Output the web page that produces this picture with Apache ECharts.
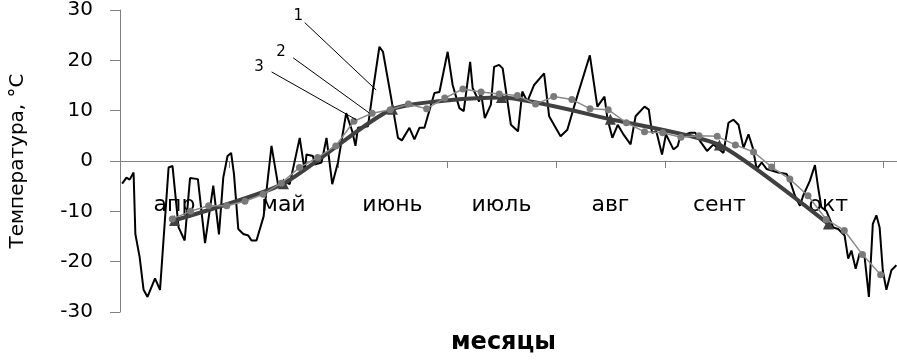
<!DOCTYPE html>
<html>
<head>
<meta charset="utf-8">
<script src="https://cdn.jsdelivr.net/npm/echarts@6/dist/echarts.min.js"></script>
<style>
  html, body { margin: 0; padding: 0; background: #fff; }
  #chart { width: 897px; height: 361px; }
</style>
</head>
<body>
<div id="chart"></div>
<script>
// month labels (x axis, one per month)
const monthLabels = ['апр', 'май', 'июнь', 'июль', 'авг', 'сент', 'окт'];

// 1 - daily temperature: day counted from 1 April, value in °C
const dailyDays = [
  0.6, 1.8, 2.7, 3.8, 4.3, 5.5, 6.6, 7.7, 9.8, 11.2, 13.6, 14.7, 16.4, 18.1, 19.6, 21.8,
  23.8, 26.1, 27.7, 28.9, 30.1, 31.1, 31.9, 33.1, 34.5, 35.9, 36.8, 38.2, 40.2, 42.4, 44.3,
  45.5, 47.5, 50.3, 51.7, 52.2, 54.0, 54.5, 56.4, 57.8, 59.4, 61.0, 63.3, 65.0, 65.9, 66.6,
  69.4, 70.8, 72.6, 73.6, 75.9, 77.8, 78.9, 81.0, 82.4, 83.8, 85.2, 88.0, 89.4, 91.7, 93.1,
  95.0, 96.2, 98.0, 98.7, 100.5, 101.0, 102.1, 103.8, 104.7, 106.1, 107.1, 109.4, 111.4,
  112.6, 114.0, 115.9, 118.7, 120.1, 123.3, 125.2, 127.5, 131.5, 133.6, 135.6, 136.4, 137.8,
  139.3, 140.8, 142.9, 144.3, 146.8, 148.0, 148.9, 150.1, 151.7, 152.8, 154.9, 156.1, 156.8,
  159.6, 161.0, 162.4, 164.3, 166.1, 168.9, 170.3, 171.7, 173.1, 174.5, 175.9, 177.1, 178.2,
  179.6, 181.0, 184.2, 186.6, 187.5, 188.9, 190.3, 191.2, 193.1, 194.5, 195.4, 196.3, 197.7,
  199.6, 201.0, 202.8, 203.8, 204.7, 205.9, 207.0, 208.4, 209.6, 210.7, 211.7, 212.6, 213.5,
  214.5, 215.9, 217.3
];
const dailyTemps = [
  -4.5, -3.3, -3.7, -2.3, -14.5, -19.1, -25.6, -27.0, -23.3, -25.6, -1.3, -1.0, -13.2, -15.8, -3.4, -3.6,
  -16.3, -4.9, -14.6, -3.3, 1.0, 1.6, -2.6, -13.5, -14.5, -14.8, -15.8, -15.8, -11.0, 3.0, -5.0,
  -4.0, -4.6, 4.6, -2.0, 1.3, 1.0, -0.7, -0.3, 4.6, -4.6, -0.3, 9.5, 5.9, 3.0, 6.6,
  6.9, 14.1, 22.7, 21.7, 12.5, 4.6, 4.1, 6.6, 4.3, 6.6, 6.6, 13.5, 13.7, 21.7, 15.1,
  10.5, 9.9, 19.7, 14.5, 11.8, 13.8, 8.5, 11.2, 18.7, 19.1, 18.4, 7.2, 5.9,
  13.8, 11.8, 15.1, 17.4, 8.9, 4.9, 6.2, 11.8, 21.0, 10.8, 12.8, 8.5, 4.6,
  7.2, 5.4, 3.3, 8.9, 10.8, 10.2, 5.6, 5.9, 1.3, 5.3, 2.3, 3.0, 4.9,
  5.6, 5.6, 3.9, 2.0, 3.3, 1.6, 7.6, 8.2, 7.2, 2.6, 5.3, 2.6, -1.6,
  -0.3, -1.6, -2.3, -2.6, -3.9, -6.9, -8.9, -6.9, -3.9, -0.8, -5.3, -9.2, -9.9,
  -13.2, -13.5, -14.8, -19.4, -17.8, -21.4, -18.4, -19.1, -27.0, -12.5, -10.8, -13.2, -21.8,
  -25.6, -21.7, -20.7
];

// 2 - five-day (pentad) means, °C
const pentadTemps = [
  -11.5, -10.0, -8.9, -8.9, -8.0, -6.6, -4.4, -1.3, 0.7, 3.0,
  7.9, 9.5, 10.2, 11.3, 10.4, 12.5, 14.3, 13.7, 13.3, 13.0,
  11.3, 12.8, 12.2, 10.4, 10.2, 7.6, 5.8, 5.6, 4.7, 5.0,
  4.9, 3.2, 1.8, -1.2, -3.6, -6.9, -11.6, -13.8, -18.6, -22.6
];
const pentadFirst = 0.48; // first pentad position, in months

// 3 - monthly means, °C
const monthlyTemps = [-11.8, -4.5, 10.3, 12.6, 8.3, 3.2, -12.5];

const DAYS_PER_MONTH = 30.5;
const font = '"DejaVu Sans", sans-serif';
const axisGray = '#808080';
// long dash = visually solid, keeps zrender from batching the axis strokes
const solidDash = [900, 1];

const chart = echarts.init(document.getElementById('chart'));

const dailyData = dailyDays.map((d, i) => [d / DAYS_PER_MONTH, dailyTemps[i]]);
const pentadData = pentadTemps.map((v, i) => [pentadFirst + i / 6, v]);
const monthlyData = monthlyTemps.map((v, i) => [i + 0.5, v]);

chart.setOption({
  animation: false,
  backgroundColor: '#fff',
  title: {
    text: 'месяцы',
    left: 451,
    top: 331,
    padding: 0,
    textStyle: { fontFamily: font, fontSize: 24, fontWeight: 'bold', color: '#000' }
  },
  grid: { left: 118, right: 0, top: 7, bottom: 49 },
  xAxis: {
    type: 'value',
    min: 0,
    max: 7.13,
    interval: 1,
    splitLine: { show: false },
    axisLine: { show: true, onZero: true, lineStyle: { color: axisGray, width: 1, type: solidDash } },
    axisTick: { show: true, inside: false, length: 7, lineStyle: { color: axisGray, type: solidDash } },
    axisLabel: {
      // labels stay at the grid bottom, pull them up under the zero line
      margin: -118,
      fontFamily: font,
      fontSize: 22,
      color: '#000',
      align: 'center',
      padding: [0, 0, 0, 109],
      showMaxLabel: false,
      formatter: (v) => monthLabels[Math.round(v)] || ''
    }
  },
  yAxis: {
    type: 'value',
    min: -30,
    max: 30,
    interval: 10,
    name: 'Температура, °С',
    nameLocation: 'middle',
    nameGap: 92,
    nameTextStyle: { fontFamily: font, fontSize: 20, color: '#000' },
    splitLine: { show: false },
    axisLine: { show: true, lineStyle: { color: axisGray, width: 1, type: solidDash } },
    axisTick: { show: true, length: 10, lineStyle: { color: axisGray, type: solidDash } },
    axisLabel: { margin: 27, fontFamily: font, fontSize: 20, color: '#000' }
  },
  series: [
    {
      name: '1',
      type: 'line',
      data: dailyData,
      showSymbol: false,
      lineStyle: { color: '#000', width: 2 },
      z: 2,
      markLine: {
        silent: true,
        symbol: 'none',
        lineStyle: { color: '#000', width: 1, type: 'solid' },
        label: { show: true, position: 'start', distance: 9, fontFamily: font, fontSize: 15, color: '#000' },
        data: [
          [{ coord: [1.695, 27.5], label: { formatter: '1' } }, { coord: [2.351, 14.1] }],
          [{ coord: [1.589, 20.5], label: { formatter: '2' } }, { coord: [2.290, 9.5] }],
          [{ coord: [1.391, 17.7], label: { formatter: '3' } }, { coord: [2.168, 8.2] }]
        ]
      }
    },
    {
      name: '3',
      type: 'line',
      data: monthlyData,
      smooth: 0.2,
      symbol: 'triangle',
      symbolSize: 11,
      itemStyle: { color: '#404040' },
      lineStyle: { color: '#404040', width: 4 },
      z: 3
    },
    {
      name: '2',
      type: 'line',
      data: pentadData,
      symbol: 'circle',
      symbolSize: 7,
      itemStyle: { color: '#7a7a7a' },
      lineStyle: { color: '#8a8a8a', width: 1.5 },
      z: 4,
      // zero line and left axis line drawn again underneath, in case the axis strokes get lost
      markLine: {
        silent: true,
        symbol: 'none',
        z: 0,
        label: { show: false },
        lineStyle: { color: axisGray, width: 1, type: 'solid' },
        data: [{ yAxis: 0 }, { xAxis: 0 }]
      }
    }
  ]
});
</script>
</body>
</html>
